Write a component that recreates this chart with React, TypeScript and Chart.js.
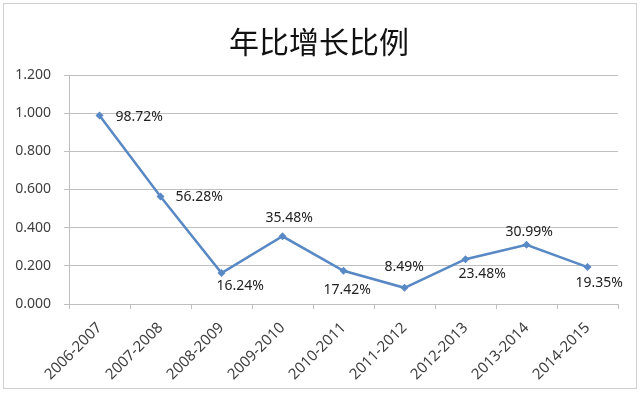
import React, { useEffect, useRef } from "react";
import { Chart, registerables } from "chart.js";

Chart.register(...registerables);

const chartTitle = "年比增长比例";
const categories = [
  "2006-2007",
  "2007-2008",
  "2008-2009",
  "2009-2010",
  "2010-2011",
  "2011-2012",
  "2012-2013",
  "2013-2014",
  "2014-2015",
];
const growthValues = [0.9872, 0.5628, 0.1624, 0.3548, 0.1742, 0.0849, 0.2348, 0.3099, 0.1935];
const pointLabels = ["98.72%", "56.28%", "16.24%", "35.48%", "17.42%", "8.49%", "23.48%", "30.99%", "19.35%"];
const yTickValues = [0, 0.2, 0.4, 0.6, 0.8, 1.0, 1.2];

// label placement relative to each point: [dx to text left edge, dy to text middle]
const labelOffsets: [number, number][] = [
  [16, 1],
  [15, 0],
  [-5, 13],
  [-17, -18],
  [-20, 19],
  [-20, -21],
  [-7, 15],
  [-21, -13],
  [-12, 16],
];

const LINE_COLOR = "#5889C5";
const TEXT_COLOR = "#404040";
const FONT = "'Noto Sans', 'DejaVu Sans', sans-serif";

const framePlugin = {
  id: "frame",
  beforeDraw(chart: any) {
    const ctx = chart.ctx;
    ctx.save();
    ctx.fillStyle = "#ffffff";
    ctx.fillRect(0, 0, chart.width, chart.height);
    ctx.strokeStyle = "#D0D0D0";
    ctx.lineWidth = 1;
    ctx.strokeRect(3.5, 3.5, 633, 385);
    ctx.font = "30px 'Noto Sans CJK SC', sans-serif";
    ctx.fillStyle = "#111111";
    ctx.textAlign = "center";
    ctx.textBaseline = "middle";
    ctx.fillText(chartTitle, 319, 42);
    ctx.restore();
  },
};

const labelPlugin = {
  id: "pointLabels",
  afterDatasetsDraw(chart: any) {
    const ctx = chart.ctx;
    const meta = chart.getDatasetMeta(0);
    ctx.save();
    ctx.font = `14px ${FONT}`;
    ctx.fillStyle = "#222222";
    ctx.textAlign = "left";
    ctx.textBaseline = "middle";
    meta.data.forEach((pt: any, i: number) => {
      const [dx, dy] = labelOffsets[i];
      ctx.fillText(pointLabels[i], pt.x + dx, pt.y + dy);
    });
    ctx.restore();
  },
};

export default function App() {
  const canvasRef = useRef<HTMLCanvasElement | null>(null);

  useEffect(() => {
    if (!canvasRef.current) return;
    const chart = new Chart(canvasRef.current, {
      type: "line",
      data: {
        labels: categories,
        datasets: [
          {
            data: growthValues,
            borderColor: LINE_COLOR,
            backgroundColor: LINE_COLOR,
            borderWidth: 2.5,
            pointStyle: "rectRot",
            pointRadius: 4,
            pointBorderWidth: 0,
            pointBackgroundColor: LINE_COLOR,
            tension: 0,
            fill: false,
          },
        ],
      },
      options: {
        responsive: false,
        animation: false,
        layout: { padding: { left: 0, right: 22, top: 75, bottom: 0 } },
        plugins: {
          legend: { display: false },
          tooltip: { enabled: false },
          title: { display: false },
        },
        scales: {
          x: {
            type: "category",
            offset: true,
            grid: {
              offset: true,
              drawOnChartArea: false,
              drawTicks: true,
              tickLength: 5,
              color: "#BFBFBF",
            },
            border: { color: "#BFBFBF", width: 1 },
            ticks: {
              autoSkip: false,
              maxRotation: 45,
              minRotation: 45,
              padding: 10,
              color: TEXT_COLOR,
              font: { family: FONT, size: 15 },
            },
            afterFit(scale: any) {
              scale.height = 89;
            },
          },
          y: {
            min: 0,
            max: 1.2,
            afterBuildTicks(scale: any) {
              scale.ticks = yTickValues.map((v) => ({ value: v }));
            },
            grid: {
              color: "#BFBFBF",
              drawTicks: true,
              tickLength: 5,
            },
            border: { color: "#BFBFBF", width: 1 },
            ticks: {
              padding: 13,
              color: TEXT_COLOR,
              font: { family: FONT, size: 14 },
              callback: (v: any) => Number(v).toFixed(3),
            },
            afterFit(scale: any) {
              scale.width = 69;
            },
          },
        },
      },
      plugins: [framePlugin, labelPlugin],
    });
    return () => chart.destroy();
  }, []);

  return (
    <div style={{ position: "absolute", left: 0, top: 0, width: 640, height: 393 }}>
      <canvas ref={canvasRef} width={640} height={393} style={{ width: 640, height: 393, display: "block" }} />
    </div>
  );
}
